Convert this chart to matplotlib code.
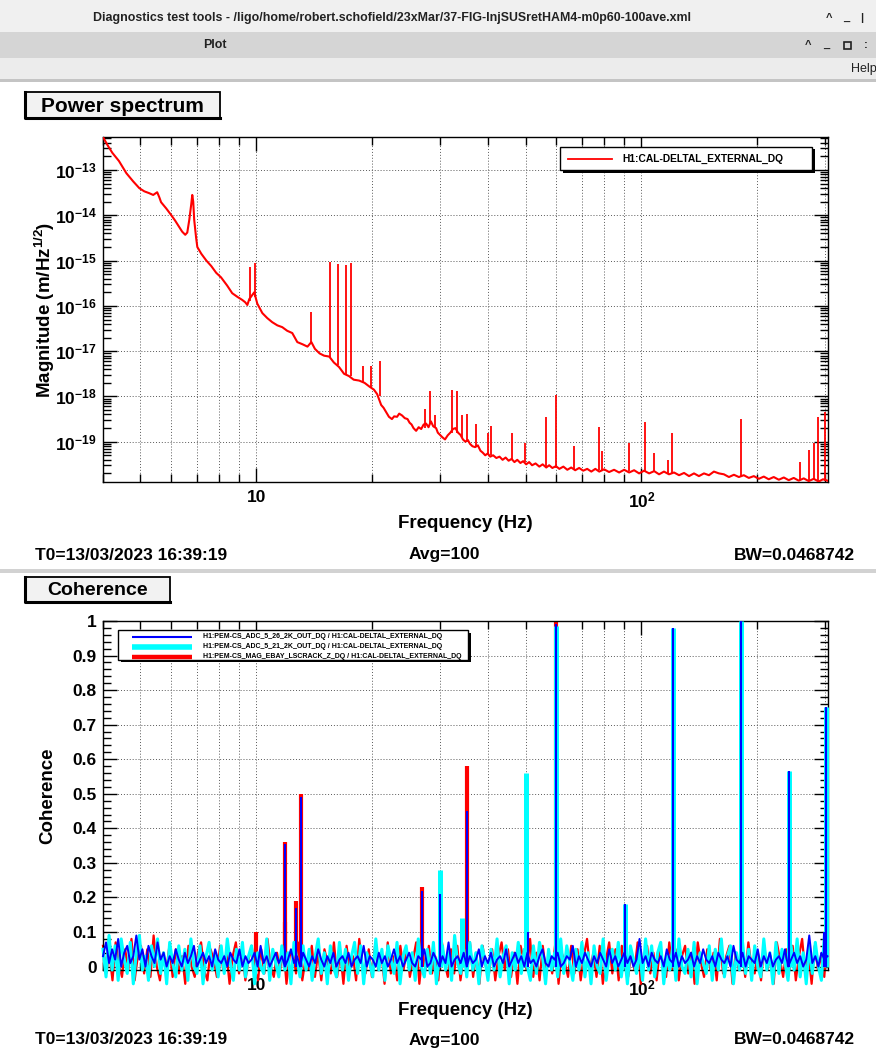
import numpy as np
import matplotlib
matplotlib.use("Agg")
import matplotlib.pyplot as plt
from matplotlib.patches import Rectangle
from matplotlib.lines import Line2D
from matplotlib.ticker import (FixedLocator, FixedFormatter, LogLocator, NullFormatter,
                               FuncFormatter, MultipleLocator)

plt.rcParams['font.family'] = ['Liberation Sans', 'DejaVu Sans']
plt.rcParams['font.weight'] = 'bold'
plt.rcParams['axes.labelweight'] = 'bold'
plt.rcParams['mathtext.fontset'] = 'custom'
plt.rcParams['mathtext.rm'] = 'Liberation Sans:bold'
plt.rcParams['mathtext.bf'] = 'Liberation Sans:bold'
plt.rcParams['mathtext.it'] = 'Liberation Sans:bold:italic'

# ---- power spectrum: (frequency Hz, log10 magnitude m/rtHz)
ps_points = [(4.0, -12.27), (4.11, -12.45), (4.23, -12.62), (4.4, -12.8), (4.6, -13.07),
             (4.79, -13.25), (4.97, -13.40), (5.12, -13.47), (5.27, -13.51), (5.4, -13.55),
             (5.53, -13.49), (5.6, -13.6), (5.66, -13.71), (5.84, -13.85), (6.02, -14.0),
             (6.16, -14.12), (6.31, -14.26), (6.42, -14.36), (6.54, -14.43), (6.62, -14.38),
             (6.7, -14.10), (6.78, -13.75), (6.82, -13.55), (6.86, -13.7), (6.9, -14.1),
             (6.98, -14.5), (7.03, -14.70), (7.2, -14.85), (7.42, -15.0), (7.64, -15.12),
             (7.87, -15.27), (8.1, -15.37), (8.4, -15.55), (8.66, -15.72), (8.93, -15.8),
             (9.2, -15.87), (9.36, -15.92), (9.48, -15.98), (9.59, -15.85), (9.88, -15.7),
             (10.06, -15.95), (10.37, -16.16), (10.68, -16.27), (11.0, -16.36), (11.34, -16.43),
             (11.68, -16.47), (12.03, -16.55), (12.4, -16.6), (12.78, -16.8), (13.2, -16.85),
             (13.58, -16.9), (13.9, -16.8), (14.2, -16.95), (14.6, -17.05), (15.0, -17.1),
             (15.47, -17.12), (15.9, -17.25), (16.4, -17.35), (16.9, -17.5), (17.4, -17.55),
             (17.9, -17.63), (18.5, -17.65), (19.1, -17.7), (19.65, -17.78), (20.2, -17.85),
             (20.6, -17.95), (21.1, -18.19), (21.4, -18.25), (21.75, -18.35), (22.1, -18.45),
             (22.5, -18.5), (22.8, -18.44), (23.2, -18.45), (23.5, -18.38), (23.9, -18.42),
             (24.3, -18.48), (24.7, -18.5), (25.0, -18.58), (25.3, -18.62), (25.6, -18.7),
             (26.0, -18.76), (26.4, -18.68), (26.8, -18.72), (27.2, -18.62), (27.6, -18.6),
             (28.0, -18.68), (28.4, -18.55), (28.8, -18.66), (29.3, -18.7), (29.6, -18.8),
             (30.0, -18.85), (30.4, -18.9), (30.9, -18.95), (31.4, -18.86), (31.9, -18.8),
             (32.4, -18.72), (32.9, -18.7), (33.4, -18.8), (33.9, -18.85), (34.4, -18.95),
             (34.9, -19.0), (35.4, -18.96), (35.9, -19.05), (36.4, -19.1), (37.0, -19.12),
             (37.6, -19.08), (38.2, -19.2), (38.7, -19.24), (39.3, -19.3), (39.9, -19.26),
             (40.5, -19.33), (41.2, -19.3), (42.0, -19.36), (42.8, -19.33), (43.6, -19.4),
             (44.4, -19.35), (45.2, -19.42), (46.0, -19.38), (46.8, -19.45), (47.6, -19.4),
             (48.5, -19.47), (49.3, -19.43), (50.2, -19.5), (51.1, -19.45), (52.0, -19.52),
             (53.1, -19.48), (54.3, -19.55), (55.4, -19.5), (56.6, -19.57), (57.6, -19.52),
             (58.7, -19.58), (60.0, -19.54), (61.2, -19.6), (62.7, -19.55), (64.2, -19.62),
             (65.7, -19.57), (67.3, -19.63), (68.9, -19.58), (70.6, -19.64), (72.3, -19.6),
             (74.1, -19.66), (75.9, -19.6), (77.7, -19.66), (80.0, -19.61), (82.4, -19.67),
             (84.9, -19.62), (87.5, -19.68), (90.2, -19.62), (92.9, -19.68), (95.7, -19.63),
             (98.6, -19.7), (101.6, -19.64), (104.7, -19.7), (107.9, -19.65), (111.1, -19.72),
             (114.4, -19.66), (117.9, -19.72), (121.5, -19.68), (125.2, -19.74), (129.0, -19.69),
             (132.9, -19.76), (136.9, -19.7), (141.0, -19.76), (145.3, -19.7), (149.7, -19.74),
             (154.2, -19.66), (158.9, -19.7), (163.7, -19.72), (168.7, -19.78), (173.8, -19.73),
             (179.0, -19.78), (184.4, -19.74), (190.0, -19.8), (195.8, -19.76), (201.7, -19.82),
             (207.8, -19.77), (214.0, -19.83), (220.5, -19.78), (227.3, -19.84), (234.2, -19.79),
             (241.2, -19.85), (248.5, -19.8), (256.0, -19.86), (263.8, -19.81), (271.8, -19.87),
             (280.0, -19.82), (288.5, -19.88), (296.0, -19.83), (304.0, -19.86)]

# narrow lines in the spectrum: frequency, log10 base, log10 top
ps_peak_freq = [9.65, 9.9, 13.9, 15.5, 16.3, 17.1, 17.6, 18.9, 19.8, 21.0, 27.4, 28.2, 29.1,
                32.2, 33.2, 34.3, 35.3, 37.2, 40.0, 40.8, 46.2, 49.9, 56.5, 60.0, 67.0, 77.6,
                78.9, 92.9, 101.9, 108.0, 117.0, 120.2, 181.0, 258.0, 272.0, 280.0, 287.0, 299.6]
ps_peak_base = [-15.9, -15.8, -16.85, -17.12, -17.3, -17.5, -17.55, -17.7, -17.8, -18.0, -18.7,
                -18.6, -18.7, -18.8, -18.8, -18.9, -19.0, -19.1, -19.3, -19.3, -19.4, -19.45,
                -19.55, -19.57, -19.6, -19.62, -19.62, -19.65, -19.66, -19.66, -19.7, -19.7,
                -19.75, -19.85, -19.85, -19.85, -19.86, -19.86]
ps_peak_top = [-15.15, -15.05, -16.14, -15.03, -15.07, -15.1, -15.06, -17.33, -17.33, -17.21,
               -18.27, -17.89, -18.4, -17.85, -17.89, -18.42, -18.38, -18.6, -18.8, -18.65,
               -18.8, -19.02, -18.46, -17.97, -19.1, -18.68, -19.2, -19.02, -18.57, -19.25,
               -19.4, -18.8, -18.49, -19.45, -19.18, -19.02, -18.46, -18.34]

# ---- coherence noise floor (percent), sampled evenly in log frequency 4..304 Hz
coh_blue_pct = [3, 7, 1, 5, 2, 8, 0, 4, 6, 1, 3, 9, 2, 5, 0, 6, 3, 1, 7, 2,
                4, 0, 3, 1, 5, 2, 0, 4, 1, 3, 6, 0, 2, 4, 1, 3, 0, 5, 2, 1,
                3, 0, 4, 2, 1, 5, 0, 3, 1, 2, 4, 0, 6, 1, 3, 0, 2, 4, 1, 3,
                0, 2, 5, 1, 3, 0, 4, 2, 0, 3, 1, 5, 2, 0, 3, 1, 4, 0, 2, 3,
                1, 4, 0, 2, 3, 1, 6, 0, 3, 2, 0, 4, 1, 3, 0, 2, 5, 1, 3, 0,
                2, 4, 1, 0, 3, 2, 5, 0, 1, 4, 2, 0, 3, 1, 7, 0, 2, 3, 1, 4,
                0, 3, 1, 2, 5, 0, 3, 1, 4, 0, 2, 3, 1, 5, 0, 2, 4, 1, 3, 0,
                4, 1, 2, 0, 3, 5, 1, 0, 3, 2, 4, 0, 1, 3, 2, 6, 0, 3, 1, 4,
                2, 0, 3, 1, 4, 2, 0, 5, 1, 3, 0, 2, 4, 1, 3, 0, 2, 8, 1, 3,
                0, 4, 2, 1, 3, 0, 5, 2, 1, 4, 0, 3, 1, 2, 4, 0, 3, 1, 5, 2,
                1, 3, 0, 4, 2, 1, 3, 0, 6, 2, 1, 4, 0, 3, 2, 1, 5, 0, 3, 1,
                4, 0, 2, 3, 1, 5, 0, 2, 4, 1, 3, 0, 2, 9, 1, 3, 0, 4, 2, 3]
coh_cyan_pct = [5, -3, 9, -1, 6, -4, 8, 2, -2, 7, -5, 4, 9, -1, 3, -4, 6, 0, 8, -2,
                4, -5, 7, 1, -3, 6, -1, 5, -4, 8, 0, -2, 6, -5, 3, 7, -1, 4, -3, 6,
                -2, 8, 1, -4, 5, -1, 7, -3, 3, 6, -5, 4, 0, -2, 8, -4, 5, 1, -3, 6,
                -1, 4, -5, 7, 2, -3, 6, -1, 5, -4, 3, 8, -2, 4, -5, 6, 0, -3, 7, -1,
                5, -4, 3, 7, -2, 6, -5, 4, 1, -3, 8, -1, 5, -4, 6, 2, -2, 7, -5, 3,
                6, -1, 4, -4, 8, 0, -3, 5, -2, 7, -5, 3, 6, -1, 4, -4, 9, 1, -2, 5,
                -3, 7, -1, 4, -5, 6, 2, -4, 5, -1, 8, -3, 3, 6, -5, 4, -1, 7, -2, 5,
                0, -4, 6, -2, 7, 3, -5, 5, -1, 4, -3, 8, -2, 6, 1, -4, 5, -1, 7, -3,
                4, -5, 6, 0, -2, 8, -4, 3, 5, -1, 7, -3, 4, -5, 6, 2, -2, 5, -4, 8,
                -1, 6, -3, 4, 7, -5, 3, -1, 6, -4, 8, 0, -2, 5, -3, 7, -5, 4, 1, -2,
                6, -4, 5, -1, 8, -3, 3, 6, -5, 4, -1, 7, -2, 5, -4, 6, 0, -3, 8, -1,
                4, -5, 7, -2, 5, 1, -4, 6, -1, 8, -3, 4, -5, 6, -2, 7, 0, -4, 9, 5]
coh_red_pct = [6, -2, 4, -4, 7, 1, -3, 5, -1, 8, -4, 3, 6, -2, 5, -3, 9, 0, -4, 4, -1, 6, -3,
               5, -2, 3, -5, 6, 0, -3, 4, 7, -1, -4, 5, 2, -3, 6, -1, 4, -5, 3, 7, -2, 5, -4,
               2, 6, -1, -4, 5, -2, 8, 0, -3, 4, -1, 6, -5, 3, 5, -2, 7, -4, 2, -1, 6, -3, 4,
               -4, 5, 1, -2, 7, -3, 4, -5, 6, -1, 3, -4, 8, 0, -2, 5, -3, 6, -1, 4, -5, 7, -2,
               3, -4, 6, -1, 5, -3, 2, 7, -5, 4, -1, 6, -2, 3, -4, 8, 1, -3, 5, -2, 6, -4, 3,
               -1, 7, -3, 4, -5, 6, 0, -2, 5, -4, 3, 7, -1, 5, -3, 4, -5, 6, 2, -1, 8, -3, 4,
               -4, 6, -1, 3, -2, 7, -5, 4, 1, -3, 6, -2, 5, -4, 3, 8, -1, 4, -3, 6, -5, 2, 7,
               -2, 5, -4, 6, 0, -3, 4, -1, 7, -5, 3, 6, -2, 4, -4, 5, 1, -3, 7, -1, 5, -4, 3,
               6, -2, 4, -5, 7, 1, -3, 5, -1, 4, -4, 8, -2, 3, 6, -5, 4, -1, 5, -3, 7, 0, -2,
               4, -4, 6, -1, 3, -5, 7, 2, -3, 5, -1, 6, -4, 3, 8, -2, 4, -5, 6, -1, 3, -3, 9]

# coherence lines
red_peak_freq = [10.0, 11.85, 11.9, 12.7, 13.1, 27.0, 35.3, 60.0]
red_peak_top = [0.10, 0.13, 0.36, 0.19, 0.50, 0.23, 0.58, 1.0]
cyan_peak_freq = [30.0, 34.3, 50.0, 60.0, 90.4, 120.4, 181.5, 242.0, 302.0]
cyan_peak_top = [0.28, 0.14, 0.56, 0.985, 0.18, 0.98, 1.0, 0.565, 0.75]
blue_peak_freq = [11.85, 11.9, 12.7, 13.1, 27.0, 30.0, 35.3, 50.6, 60.0, 90.4, 120.4,
                  181.5, 242.0, 298.0, 302.0]
blue_peak_top = [0.14, 0.355, 0.17, 0.49, 0.22, 0.21, 0.45, 0.10, 0.99, 0.18, 0.98,
                 1.0, 0.565, 0.10, 0.75]

ps_label = 'H1:CAL-DELTAL_EXTERNAL_DQ'
coh_labels = ['H1:PEM-CS_ADC_5_26_2K_OUT_DQ / H1:CAL-DELTAL_EXTERNAL_DQ',
              'H1:PEM-CS_ADC_5_21_2K_OUT_DQ / H1:CAL-DELTAL_EXTERNAL_DQ',
              'H1:PEM-CS_MAG_EBAY_LSCRACK_Z_DQ / H1:CAL-DELTAL_EXTERNAL_DQ']
window_title = 'Diagnostics test tools - /ligo/home/robert.schofield/23xMar/37-FIG-InjSUSretHAM4-m0p60-100ave.xml'
info = ['T0=13/03/2023 16:39:19', 'Avg=100', 'BW=0.0468742']

W, H = 876, 1051
fig = plt.figure(figsize=(W / 100, H / 100), dpi=100)
fig.patch.set_facecolor('white')


def fy(y):
    return 1 - y / H


def band(y0, y1, color):
    fig.patches.append(Rectangle((0, fy(y1)), 1, (y1 - y0) / H, transform=fig.transFigure,
                                 facecolor=color, edgecolor='none', zorder=0))


# window chrome
band(0, 32, '#f0f0f0')
band(32, 58, '#d5d5d5')
band(58, 79, '#ececec')
band(79, 82, '#c4c4c4')
band(569, 573, '#d2d2d2')
fig.text(392 / W, fy(18), window_title, ha='center', va='center', fontsize=8.9, color='#222222')
fig.text(215 / W, fy(45), 'Plot', ha='center', va='center', fontsize=8.9, color='#222222')
fig.text(851 / W, fy(69), 'Help', ha='left', va='center', fontsize=9, color='#222222',
         fontweight='normal')
for x, s in [(829, '^'), (846, '_'), (862, '|')]:
    fig.text(x / W, fy(18), s, ha='center', va='center', fontsize=8, color='#222222')
for x, s in [(808, '^'), (826, '_'), (866, ':')]:
    fig.text(x / W, fy(45), s, ha='center', va='center', fontsize=8, color='#222222')
fig.patches.append(Rectangle((844 / W, fy(49)), 7 / W, 7 / H, transform=fig.transFigure,
                             facecolor='none', edgecolor='#222222', lw=1.2))


def title_box(x0, y0, x1, y1, text, size):
    fig.patches.append(Rectangle((x0 / W, fy(y1)), (x1 - x0) / W, (y1 - y0) / H,
                                 transform=fig.transFigure, facecolor='#f2f2f2',
                                 edgecolor='black', lw=1.3))
    fig.add_artist(Line2D([x0 / W, x0 / W, x1 / W], [fy(y0), fy(y1), fy(y1)],
                          transform=fig.transFigure, color='black', lw=2.2))
    fig.text((x0 + x1) / 2 / W, fy((y0 + y1) / 2 + 1), text, ha='center', va='center',
             fontsize=size)


title_box(25, 92, 220, 118, 'Power spectrum', 15)
title_box(25, 577, 170, 602, 'Coherence', 14)

for yy in (555, 1040):
    fig.text(35 / W, fy(yy), info[0], ha='left', va='center', fontsize=12.5)
    fig.text(444 / W, fy(yy), info[1], ha='center', va='center', fontsize=12.5)
    fig.text(855 / W, fy(yy), info[2], ha='right', va='center', fontsize=12.5)

ax1 = fig.add_axes([103 / W, fy(482), 725 / W, 345 / H])
ax2 = fig.add_axes([103 / W, fy(970), 725 / W, 349 / H])

gridstyle = dict(color='0.35', linestyle=(0, (1, 2)), lw=0.7)

# ---- power spectrum
ps_f = [p[0] for p in ps_points]
ps_m = [10 ** p[1] for p in ps_points]
ax1.plot(ps_f, ps_m, color='red', lw=1.5, zorder=3)
ax1.vlines(ps_peak_freq, 10 ** np.array(ps_peak_base), 10 ** np.array(ps_peak_top),
           color='red', lw=1.3, zorder=3)
ax1.set_xscale('log')
ax1.set_yscale('log')
ax1.set_xlim(4, 305)
ax1.set_ylim(10 ** -19.89, 10 ** -12.27)
ax1.yaxis.set_major_locator(LogLocator(base=10, numticks=20))
ax1.yaxis.set_minor_locator(LogLocator(base=10, subs=np.arange(2, 10), numticks=20))
ax1.yaxis.set_major_formatter(FuncFormatter(lambda v, p: r'$10^{%d}$' % round(np.log10(v))))
ax1.yaxis.set_minor_formatter(NullFormatter())
ax1.grid(True, which='major', axis='y', **gridstyle)
ax1.set_ylabel(r'Magnitude (m/Hz$^{1/2}$)', fontsize=13.5)
ax1.yaxis.set_label_coords(-0.064, 0.5)
ax1.xaxis.set_label_coords(0.5, -0.095)

ax1.add_patch(Rectangle((0.634, 0.897), 0.348, 0.067, transform=ax1.transAxes,
                        facecolor='black', edgecolor='none', zorder=5))
ax1.add_patch(Rectangle((0.630, 0.904), 0.348, 0.067, transform=ax1.transAxes,
                        facecolor='white', edgecolor='black', lw=1, zorder=6))
ax1.add_line(Line2D([0.642, 0.702], [0.937, 0.937], transform=ax1.transAxes,
                    color='red', lw=1.3, zorder=7))
ax1.text(0.716, 0.937, ps_label, transform=ax1.transAxes, ha='left', va='center',
         fontsize=7.4, zorder=7)

# ---- coherence
series = [(coh_red_pct, red_peak_freq, red_peak_top, 'red', 1.6, 3.0, 2),
          (coh_cyan_pct, cyan_peak_freq, cyan_peak_top, 'cyan', 2.2, 3.6, 3),
          (coh_blue_pct, blue_peak_freq, blue_peak_top, 'blue', 1.4, 1.5, 4)]
for pct, pf, pt, col, nlw, plw, z in series:
    f = np.geomspace(4, 304, len(pct))
    ax2.plot(f, np.array(pct) / 100, color=col, lw=nlw, zorder=z, clip_on=False)
    ax2.vlines(pf, 0, pt, color=col, lw=plw, zorder=z, clip_on=False)
ax2.set_xscale('log')
ax2.set_xlim(4, 305)
ax2.set_ylim(-0.01, 1.0)
ax2.yaxis.set_major_locator(MultipleLocator(0.1))
ax2.yaxis.set_minor_locator(MultipleLocator(0.02))
ax2.yaxis.set_major_formatter(FuncFormatter(lambda v, p: '%g' % round(v, 2)))
ax2.grid(True, which='major', axis='y', **gridstyle)
ax2.set_ylabel('Coherence', fontsize=13.5)
ax2.yaxis.set_label_coords(-0.064, 0.5)
ax2.xaxis.set_label_coords(0.5, -0.092)

ax2.add_patch(Rectangle((0.025, 0.882), 0.483, 0.085, transform=ax2.transAxes,
                        facecolor='black', edgecolor='none', zorder=5))
ax2.add_patch(Rectangle((0.0207, 0.889), 0.483, 0.085, transform=ax2.transAxes,
                        facecolor='white', edgecolor='black', lw=1, zorder=6))
for k, (lab, col, lw) in enumerate(zip(coh_labels, ['blue', 'cyan', 'red'], [1.5, 4.0, 3.2])):
    yy = 0.955 - k * 0.0287
    ax2.add_line(Line2D([0.040, 0.123], [yy, yy], transform=ax2.transAxes, color=col,
                        lw=lw, zorder=7, solid_capstyle='butt'))
    ax2.text(0.138, yy, lab, transform=ax2.transAxes, ha='left', va='center',
             fontsize=5.0, zorder=7)

for ax in (ax1, ax2):
    ax.xaxis.set_major_locator(FixedLocator([10, 100]))
    ax.xaxis.set_major_formatter(FixedFormatter(['10', r'$10^{2}$']))
    ax.xaxis.set_minor_locator(LogLocator(base=10, subs=np.arange(2, 10), numticks=20))
    ax.xaxis.set_minor_formatter(NullFormatter())
    ax.grid(True, which='both', axis='x', **gridstyle)
    ax.set_xlabel('Frequency (Hz)', fontsize=13.5)
    ax.tick_params(which='both', direction='in', top=True, right=True, width=1)
    ax.tick_params(which='major', length=10, labelsize=12.5)
    ax.tick_params(axis='y', which='major', pad=4.5)
    ax.tick_params(axis='x', which='major', pad=6)
    ax.tick_params(axis='y', which='minor', length=6)
    ax.tick_params(axis='x', which='minor', length=6)
    for s in ax.spines.values():
        s.set_linewidth(1.0)

fig.savefig('out.png', dpi=100)
